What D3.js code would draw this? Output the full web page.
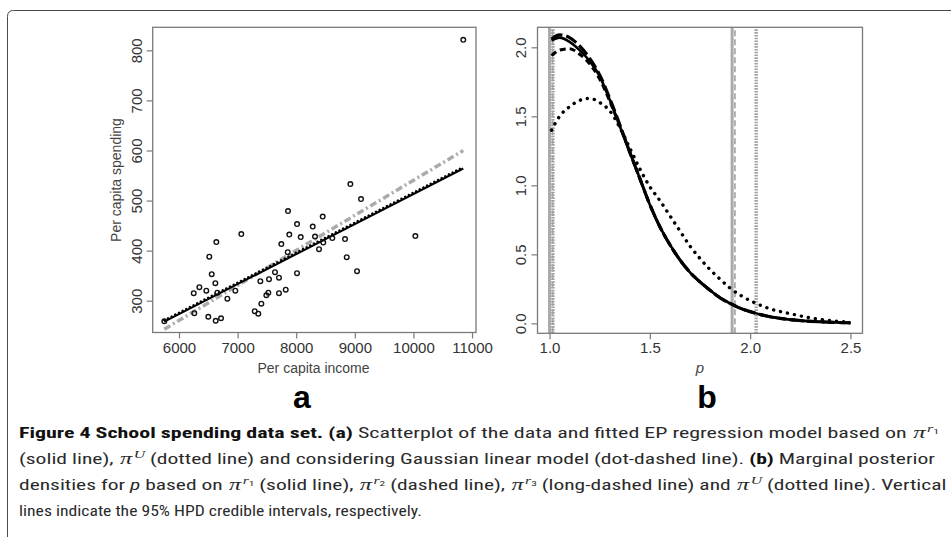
<!DOCTYPE html>
<html>
<head>
<meta charset="utf-8">
<script src="https://cdn.jsdelivr.net/npm/d3@7"></script>
<style>
  body { margin: 0; background: #fff; }
  svg { display: block; }
</style>
</head>
<body>
<svg id="chart" width="951" height="537"></svg>
<script>
// ---- panel a: school spending vs income ----
var income = [5749, 6251, 6347, 6261, 6466, 6517, 6558, 6500, 6620, 6637, 6654, 6626, 6717, 6825, 6961, 7063,
  7292, 7353, 7388, 7405, 7490, 7524, 7536, 7638, 7706, 7706, 7746, 7821, 7855, 7860, 7882, 8014, 8014, 8077,
  8282, 8321, 8389, 8452, 8462, 8616, 8833, 8862, 9038, 10033, 8924, 9106, 10851];
var spending = [259, 315, 327, 275, 320, 388, 353, 268, 335, 417, 316, 260, 265, 304, 320, 433,
  279, 274, 339, 294, 311, 316, 343, 357, 346, 315, 413, 322, 397, 479, 432, 453, 355, 427,
  448, 428, 403, 468, 416, 425, 423, 387, 359, 429, 533, 503, 821];
// fitted lines, value at min and max income
var fitEP = [258, 564];      // pi^r1, solid
var fitU = [261, 567];       // pi^U, dotted
var fitGauss = [243, 600];   // gaussian linear model, dot-dashed
var incomeTicks = [6000, 7000, 8000, 9000, 10000, 11000];
var spendingTicks = [300, 400, 500, 600, 700, 800];

// ---- panel b: marginal posterior of p ----
var pGrid = [1.01, 1.05, 1.1, 1.15, 1.2, 1.25, 1.3, 1.35, 1.4, 1.45, 1.5, 1.55, 1.6, 1.65, 1.7, 1.75,
  1.8, 1.85, 1.9, 1.95, 2.0, 2.1, 2.2, 2.3, 2.4, 2.5];
var densR1 = [2.05, 2.07, 2.04, 1.98, 1.90, 1.79, 1.62, 1.43, 1.24, 1.05, 0.86, 0.70, 0.57, 0.46, 0.37, 0.30,
  0.24, 0.185, 0.145, 0.11, 0.085, 0.048, 0.027, 0.015, 0.008, 0.004];
var densR2 = [1.94, 1.98, 1.99, 1.95, 1.88, 1.77, 1.61, 1.43, 1.24, 1.05, 0.86, 0.70, 0.57, 0.46, 0.37, 0.30,
  0.24, 0.185, 0.145, 0.11, 0.085, 0.048, 0.027, 0.015, 0.008, 0.004];
var densR3 = [2.06, 2.09, 2.07, 2.01, 1.92, 1.80, 1.63, 1.44, 1.24, 1.05, 0.86, 0.70, 0.57, 0.46, 0.37, 0.30,
  0.24, 0.185, 0.145, 0.11, 0.085, 0.048, 0.027, 0.015, 0.008, 0.004];
var densU = [1.40, 1.50, 1.57, 1.615, 1.63, 1.60, 1.54, 1.42, 1.27, 1.12, 0.99, 0.89, 0.78, 0.67, 0.56, 0.47,
  0.39, 0.32, 0.255, 0.205, 0.165, 0.105, 0.07, 0.04, 0.02, 0.008];
var hpdLower = [1.0, 1.015, 1.0, 1.017];   // r1, r2, r3, U
var hpdUpper = [1.91, 1.924, 1.91, 2.03];
var pTicks = [1.0, 1.5, 2.0, 2.5];
var densTicks = [0.0, 0.5, 1.0, 1.5, 2.0];

var svg = d3.select("#chart");
var sans = "'Liberation Sans', Arial, Helvetica, sans-serif";
var frameCol = "#7a7a7a", tickTextCol = "#333";
var grey = "#ababab";

// outer figure box (rounded corner top left, runs off the page)
svg.append("path")
  .attr("d", "M7.5,537 V16.5 Q7.5,10.5 13.5,10.5 H951")
  .attr("fill", "none").attr("stroke", "#4a4a4a").attr("stroke-width", 1);

// ---------- panel a ----------
var xa = d3.scaleLinear().domain([5551, 11068]).range([152.7, 476]);
var ya = d3.scaleLinear().domain([236.5, 846]).range([332.5, 27.3]);

var ga = svg.append("g");
ga.append("rect")
  .attr("x", xa.range()[0]).attr("y", ya.range()[1])
  .attr("width", xa.range()[1] - xa.range()[0]).attr("height", ya.range()[0] - ya.range()[1])
  .attr("fill", "none").attr("stroke", frameCol).attr("stroke-width", 1.3);

var axA = ga.append("g").attr("transform", "translate(0," + ya.range()[0] + ")")
  .call(d3.axisBottom(xa).tickValues(incomeTicks).tickSize(6).tickFormat(d3.format("d")));
var ayA = ga.append("g").attr("transform", "translate(" + xa.range()[0] + ",0)")
  .call(d3.axisLeft(ya).tickValues(spendingTicks).tickSize(6).tickFormat(d3.format("d")));

function styleAxis(ax) {
  ax.select(".domain").remove();
  ax.selectAll(".tick line").attr("stroke", frameCol).attr("stroke-width", 1.2);
  ax.selectAll(".tick text").attr("fill", tickTextCol)
    .style("font-family", sans).style("font-size", "15px");
}
styleAxis(axA); styleAxis(ayA);
axA.selectAll(".tick text").attr("dy", null).attr("y", 20.5);
ayA.selectAll(".tick text")
  .attr("transform", "rotate(-90)").attr("x", 0).attr("y", -10.7).attr("dy", 0)
  .attr("text-anchor", "middle");

ga.append("text").attr("x", 313.5).attr("y", 373)
  .attr("text-anchor", "middle").attr("fill", "#444")
  .style("font-family", sans).style("font-size", "14px").text("Per capita income");
ga.append("text").attr("transform", "translate(121,180) rotate(-90)")
  .attr("text-anchor", "middle").attr("fill", "#444")
  .style("font-family", sans).style("font-size", "14px").text("Per capita spending");

var incExt = d3.extent(income);
function fitPoints(f) { return [[incExt[0], f[0]], [incExt[1], f[1]]]; }
var lineA = d3.line().x(function (d) { return xa(d[0]); }).y(function (d) { return ya(d[1]); });

ga.append("path").datum(fitPoints(fitGauss)).attr("d", lineA)
  .attr("fill", "none").attr("stroke", grey).attr("stroke-width", 3.5)
  .attr("stroke-dasharray", "7,3,2,3");
ga.append("path").datum(fitPoints(fitEP)).attr("d", lineA)
  .attr("fill", "none").attr("stroke", "#000").attr("stroke-width", 2);
ga.append("path").datum(fitPoints(fitU)).attr("d", lineA)
  .attr("fill", "none").attr("stroke", "#000").attr("stroke-width", 2.4)
  .attr("stroke-linecap", "round").attr("stroke-dasharray", "0.1,4");

ga.selectAll("circle.pt")
  .data(income.map(function (v, i) { return [v, spending[i]]; }))
  .enter().append("circle").attr("class", "pt")
  .attr("cx", function (d) { return xa(d[0]); })
  .attr("cy", function (d) { return ya(d[1]); })
  .attr("r", 2.3)
  .attr("fill", "none").attr("stroke", "#111").attr("stroke-width", 1.4);

ga.append("text").attr("x", 302).attr("y", 408).attr("text-anchor", "middle")
  .style("font-family", sans).style("font-size", "32px").style("font-weight", "bold")
  .text("a");

// ---------- panel b ----------
var xb = d3.scaleLinear().domain([0.94, 2.56]).range([537.5, 862.5]);
var yb = d3.scaleLinear().domain([-0.072, 2.145]).range([333.3, 27.3]);

var gb = svg.append("g");

// HPD vertical lines
var hpdStyle = [
  { w: 3, dash: null },
  { w: 1.8, dash: "6,3" },
  { w: 2, dash: "12,3" },
  { w: 3.4, dash: "1.6,1.2" }
];
hpdStyle.forEach(function (s, i) {
  [hpdLower[i], hpdUpper[i]].forEach(function (v) {
    gb.append("line")
      .attr("x1", xb(v)).attr("x2", xb(v))
      .attr("y1", yb.range()[0]).attr("y2", yb.range()[1])
      .attr("stroke", i === 3 ? "#a0a0a0" : grey).attr("stroke-width", s.w)
      .attr("stroke-dasharray", s.dash);
  });
});

gb.append("rect")
  .attr("x", xb.range()[0]).attr("y", yb.range()[1])
  .attr("width", xb.range()[1] - xb.range()[0]).attr("height", yb.range()[0] - yb.range()[1])
  .attr("fill", "none").attr("stroke", frameCol).attr("stroke-width", 1.3);

var axB = gb.append("g").attr("transform", "translate(0," + yb.range()[0] + ")")
  .call(d3.axisBottom(xb).tickValues(pTicks).tickSize(6).tickFormat(d3.format(".1f")));
var ayB = gb.append("g").attr("transform", "translate(" + xb.range()[0] + ",0)")
  .call(d3.axisLeft(yb).tickValues(densTicks).tickSize(6).tickFormat(d3.format(".1f")));
styleAxis(axB); styleAxis(ayB);
axB.selectAll(".tick text").attr("dy", null).attr("y", 20);
ayB.selectAll(".tick text")
  .attr("transform", "rotate(-90)").attr("x", 0).attr("y", -12).attr("dy", 0)
  .attr("text-anchor", "middle");

gb.append("text").attr("x", 700).attr("y", 373).attr("text-anchor", "middle")
  .attr("fill", "#444").style("font-family", sans).style("font-size", "15px")
  .style("font-style", "italic").text("p");

var lineB = d3.line()
  .x(function (d) { return xb(d[0]); })
  .y(function (d) { return yb(d[1]); })
  .curve(d3.curveMonotoneX);
function series(vals) { return pGrid.map(function (p, i) { return [p, vals[i]]; }); }

var curves = [
  { v: densU, w: 3.4, dash: "0.1,7", cap: "round" },
  { v: densR2, w: 3, dash: "6,4", cap: "butt" },
  { v: densR3, w: 3.2, dash: "12,4", cap: "butt" },
  { v: densR1, w: 2.6, dash: null, cap: "butt" }
];
curves.forEach(function (c) {
  gb.append("path").datum(series(c.v)).attr("d", lineB)
    .attr("fill", "none").attr("stroke", "#000").attr("stroke-width", c.w)
    .attr("stroke-linecap", c.cap).attr("stroke-dasharray", c.dash);
});

gb.append("text").attr("x", 707).attr("y", 408).attr("text-anchor", "middle")
  .style("font-family", sans).style("font-size", "32px").style("font-weight", "bold")
  .text("b");

// ---------- caption ----------
var capFont = "'Liberation Sans Narrow', 'Roboto Condensed', Roboto, 'Open Sans', sans-serif";
function piSup(sup, sub) {
  var out = [{ t: "\u03c0", k: "pi" }, { t: sup, k: "sup" }];
  if (sub) out.push({ t: sub, k: "sub" });
  return out;
}
var captionLines = [
  { y: 438, x1: 19, x2: 940, parts: [
    { t: "Figure 4 School spending data set. (a)", k: "bold" },
    { t: " Scatterplot of the data and fitted EP regression model based on ", k: "reg" }
  ].concat(piSup("r", "1")) },
  { y: 464, x1: 19, x2: 936, parts: [{ t: "(solid line), ", k: "reg" }].concat(piSup("U"), [
    { t: " (dotted line) and considering Gaussian linear model (dot-dashed line). ", k: "reg" },
    { t: "(b)", k: "bold" },
    { t: " Marginal posterior", k: "reg" }
  ]) },
  { y: 490, x1: 19, x2: 947, parts: [
    { t: "densities for ", k: "reg" }, { t: "p", k: "ital" }, { t: " based on ", k: "reg" }
  ].concat(piSup("r", "1"), [{ t: " (solid line), ", k: "reg" }], piSup("r", "2"),
    [{ t: " (dashed line), ", k: "reg" }], piSup("r", "3"),
    [{ t: " (long-dashed line) and ", k: "reg" }], piSup("U"),
    [{ t: " (dotted line). Vertical", k: "reg" }]) },
  { y: 516, x1: 19, x2: 422, parts: [
    { t: "lines indicate the 95% HPD credible intervals, respectively.", k: "reg" }
  ] }
];
var levelOf = { sup: -6, sub: -4.5 };

captionLines.forEach(function (ln) {
  var t = svg.append("text").attr("x", 0).attr("y", 0).attr("fill", "#2a2a2a")
    .style("font-family", capFont).style("font-size", "15px");
  var cur = 0;
  ln.parts.forEach(function (p) {
    var lvl = levelOf[p.k] || 0;
    var s = t.append("tspan").text(p.t);
    if (lvl !== cur) { s.attr("dy", lvl - cur); cur = lvl; }
    if (p.k === "bold") s.style("font-weight", "bold").attr("fill", "#111");
    if (p.k === "ital") s.style("font-style", "italic");
    if (p.k === "pi") s.style("font-family", "'Liberation Serif', 'DejaVu Serif', serif")
      .style("font-style", "italic").style("font-size", "17px").attr("dx", 1);
    if (p.k === "sup") s.style("font-family", "'Liberation Serif', serif").style("font-style", "italic")
      .style("font-size", "11px").attr("dx", 1);
    if (p.k === "sub") s.style("font-size", "8px");
  });
  var w = t.node().getBBox().width;
  t.attr("transform", "translate(" + ln.x1 + "," + ln.y + ") scale(" + ((ln.x2 - ln.x1) / w) + ",1)");
});
</script>
</body>
</html>
